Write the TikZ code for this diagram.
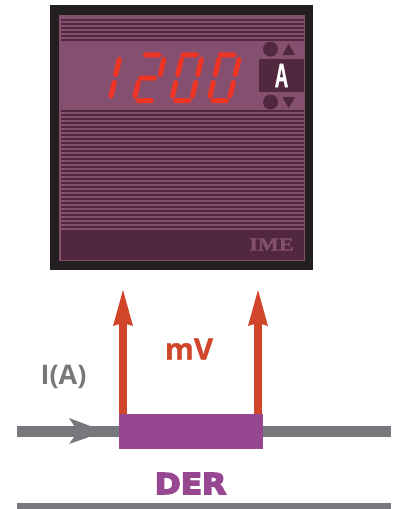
\documentclass[tikz,border=0pt]{standalone}
\usepackage{fontspec}
\usetikzlibrary{calc}
\setmainfont{Open Sans}
\newfontfamily\derfont{DejaVu Sans}
\newfontfamily\imefont{Liberation Serif}
\newfontfamily\afont{Liberation Sans}
\definecolor{panelc}{HTML}{85506F}
\definecolor{darkc}{HTML}{52283F}
\definecolor{framec}{HTML}{231F20}
\definecolor{segc}{HTML}{EE3524}
\definecolor{arrowc}{HTML}{D1452B}
\definecolor{purplec}{HTML}{96478F}
\definecolor{grayc}{HTML}{77787B}
\tikzset{
  stripe/.style={darkc,line width=2.3pt},
  redline/.style={arrowc,line width=8pt},
  rail/.style={grayc},
  redhead/.style={fill=arrowc,draw=none},
  label/.style={inner sep=0pt,font=\bfseries\fontsize{27}{27}\selectfont}
}
% one display segment: pointed bar from tip to tip, shifted by #5
\newcommand{\sg}[5]{%
  \coordinate (sa) at ($(#1,#2)+(#5,0)$);
  \coordinate (sb) at ($(#3,#4)+(#5,0)$);
  \fill[segc] (sa) -- ($(sa)!2.5pt!(sb)!2.5pt!90:(sb)$) -- ($(sb)!2.5pt!(sa)!2.5pt!-90:(sa)$) -- (sb)
    -- ($(sb)!2.5pt!(sa)!2.5pt!90:(sa)$) -- ($(sa)!2.5pt!(sb)!2.5pt!-90:(sb)$) -- cycle;}
\newcommand{\sgTop}[1]{\sg{217.5}{54.8}{237}{54.8}{#1}}
\newcommand{\sgMid}[1]{\sg{212.5}{78}{232.5}{78}{#1}}
\newcommand{\sgBot}[1]{\sg{210}{100.5}{229.5}{100.5}{#1}}
\newcommand{\sgUL}[1]{\sg{219.6}{56.5}{214.6}{77.5}{#1}}
\newcommand{\sgUR}[1]{\sg{239.6}{56.5}{234.6}{77.5}{#1}}
\newcommand{\sgLL}[1]{\sg{214}{79.5}{209.3}{99}{#1}}
\newcommand{\sgLR}[1]{\sg{234}{79.5}{229.3}{99}{#1}}
\begin{document}
\begin{tikzpicture}[x=1pt,y=-1pt]
\useasboundingbox (0,0) rectangle (395,509);
% meter frame
\fill[framec] (50,5) rectangle (313,270);
\fill[panelc] (59,15) rectangle (305,261);
% stripes
\foreach \y in {20,24,...,40} \draw[stripe] (61,\y)--(304,\y);
\foreach \y in {111,115,...,227} \draw[stripe] (61,\y)--(304,\y);
% bottom band
\fill[darkc] (61,230) rectangle (303.5,259.5);
\node[inner sep=0pt,text=panelc] (brand) at (271.5,244.5)
  {\imefont\bfseries\fontsize{18.5}{18.5}\selectfont\addfontfeature{FakeBold=1}\scalebox{1.2}[1]{IME}};
% digit 1
\sg{120}{56.5}{115}{77.5}{0}
\sg{115}{79.5}{110.3}{99}{0}
% digit 2
\sgTop{-75} \sgUR{-75} \sgMid{-75} \sgLL{-75} \sgBot{-75}
% digit 0
\sgTop{-37.5} \sgUL{-37.5} \sgUR{-37.5} \sgLL{-37.5} \sgLR{-37.5} \sgBot{-37.5}
% digit 0
\sgTop{0} \sgUL{0} \sgUR{0} \sgLL{0} \sgLR{0} \sgBot{0}
% buttons
\fill[darkc] (270.5,49) circle (7.5);
\fill[darkc] (270.5,102) circle (7.5);
\fill[darkc] (282.5,55)--(295,55)--(288.7,43.5)--cycle;
\fill[darkc] (282.5,97)--(295,97)--(288.7,108)--cycle;
\node[fill=darkc,minimum width=45pt,minimum height=33pt,inner sep=0pt,text=white] (unit) at (281.5,75.5)
  {\afont\bfseries\fontsize{34}{34}\selectfont\addfontfeature{FakeBold=1.5}\scalebox{0.55}[1]{A}};
% rails
\coordinate (railL) at (17,431.5);
\coordinate (railR) at (391,431.5);
\draw[rail,line width=11pt] (railL)--(railR);
\coordinate (lowL) at (17,506);
\coordinate (lowR) at (391,506);
\draw[rail,line width=6pt] (lowL)--(lowR);
\fill[grayc] (69,418)--(105,431.5)--(69,444)--(78,431.5)--cycle;
% sensor
\node[fill=purplec,minimum width=144pt,minimum height=35pt,inner sep=0pt] (sensor) at (191,431.5) {};
% arrows
\coordinate (tipL) at (123,290);
\coordinate (tipR) at (258,290);
\draw[redline] (sensor.north west -| tipL)--($(tipL)+(0,32)$);
\draw[redline] (sensor.north west -| tipR)--($(tipR)+(0,32)$);
\fill[redhead] (tipL)--++(10,36)--++(-10,-3)--++(-10,3)--cycle;
\fill[redhead] (tipR)--++(10,36)--++(-10,-3)--++(-10,3)--cycle;
% labels
\node[inner sep=0pt,text=arrowc,font=\bfseries\fontsize{29.5}{29.5}\selectfont] (mv) at (189,349) {\addfontfeature{FakeBold=1}mV};
\node[label,text=grayc] (ia) at (63.5,377) {I(A)};
\node[inner sep=0pt,text=purplec] (der) at (190.5,483.5)
  {\derfont\bfseries\fontsize{29}{29}\selectfont\addfontfeature{FakeBold=5}\scalebox{1.08}[1]{DER}};
\end{tikzpicture}
\end{document}
